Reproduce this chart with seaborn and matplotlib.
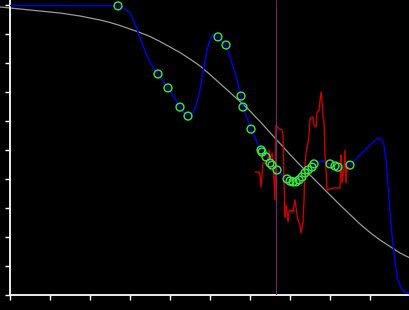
import matplotlib
matplotlib.use("Agg")
import matplotlib.pyplot as plt
import seaborn as sns
import pandas as pd

# ---- data ----
gray_x = [-0.25, 0.25, 0.75, 1.25, 1.75, 2.25, 2.5, 2.75, 3.0, 3.25, 3.5, 3.75,
          4.0, 4.25, 4.5, 4.75, 5.0, 5.25, 5.5, 5.75, 6.0, 6.25, 6.5, 6.75, 7.0,
          7.25, 7.5, 7.75, 8.0, 8.25, 8.5, 8.75, 9.0, 9.25, 9.5, 9.75, 10.0]
gray_y = [9.931, 9.862, 9.793, 9.724, 9.621, 9.483, 9.397, 9.293, 9.172, 9.052,
          8.914, 8.741, 8.552, 8.362, 8.138, 7.897, 7.603, 7.293, 6.983, 6.672,
          6.345, 5.983, 5.603, 5.224, 4.845, 4.483, 4.138, 3.793, 3.448, 3.103,
          2.776, 2.448, 2.155, 1.897, 1.672, 1.448, 1.276]

blue_x = [0.00, 1.25, 2.70, 2.875, 3.00, 3.075, 3.20, 3.325, 3.45, 3.575, 3.70,
          3.825, 3.95, 4.10, 4.25, 4.35, 4.45, 4.55, 4.65, 4.75, 4.825, 4.925,
          5.00, 5.075, 5.20, 5.30, 5.40, 5.50, 5.625, 5.725, 5.775, 5.825, 5.925,
          6.025, 6.15, 6.275, 6.425, 6.55, 6.675, 6.80, 6.925, 7.075, 7.25, 7.375,
          7.45, 7.60, 7.75, 7.875, 8.00, 8.15, 8.325, 8.50, 8.70, 8.875, 9.05,
          9.20, 9.275, 9.35, 9.40, 9.45, 9.50, 9.55, 9.625, 9.70, 9.825, 10.0]
blue_y = [9.98, 9.98, 9.97, 9.88, 9.72, 9.52, 9.07, 8.59, 8.17, 7.86, 7.62,
          7.38, 7.14, 6.83, 6.48, 6.28, 6.17, 6.24, 6.52, 7.07, 7.69, 8.45,
          8.79, 9.00, 8.90, 8.76, 8.62, 8.21, 7.66, 7.14, 6.86, 6.48, 6.10,
          5.72, 5.34, 5.00, 4.76, 4.48, 4.31, 4.14, 4.00, 3.90, 4.03, 4.17,
          4.31, 4.52, 4.62, 4.59, 4.52, 4.41, 4.48, 4.48, 4.76, 5.00, 5.24,
          5.41, 5.38, 5.17, 4.66, 3.79, 2.86, 2.07, 1.14, 0.48, 0.14, 0.03]

green_x = [2.70, 3.70, 3.95, 4.25, 4.45, 5.20, 5.40, 5.775, 5.825, 6.025, 6.275,
           6.30, 6.40, 6.50, 6.55, 6.675, 6.925, 7.00, 7.075, 7.15, 7.225, 7.30,
           7.375, 7.45, 7.55, 7.60, 8.00, 8.125, 8.20, 8.50]
green_y = [9.97, 7.62, 7.14, 6.48, 6.17, 8.90, 8.62, 6.86, 6.48, 5.72, 5.00,
           4.93, 4.76, 4.55, 4.48, 4.31, 4.00, 3.93, 3.90, 3.90, 3.97, 4.07,
           4.21, 4.31, 4.41, 4.52, 4.52, 4.45, 4.41, 4.48]

red_x = [6.125, 6.225, 6.25, 6.275, 6.30, 6.325, 6.40, 6.45, 6.475, 6.50, 6.55,
         6.575, 6.625, 6.65, 6.70, 6.80, 6.825, 6.85, 6.875, 6.90, 6.925, 6.95,
         6.975, 7.00, 7.05, 7.075, 7.10, 7.125, 7.15, 7.175, 7.20, 7.25, 7.275,
         7.30, 7.325, 7.35, 7.375, 7.40, 7.425, 7.45, 7.475, 7.50, 7.575, 7.60,
         7.65, 7.675, 7.725, 7.775, 7.80, 7.825, 7.85, 7.875, 7.90, 7.925, 8.075,
         8.25, 8.26, 8.275, 8.30, 8.35, 8.375, 8.40, 8.425, 8.475]
red_y = [4.24, 4.24, 4.14, 3.72, 4.14, 4.55, 4.55, 4.66, 5.00, 4.66, 4.90,
         4.66, 3.28, 5.86, 5.76, 5.69, 5.52, 3.97, 2.69, 3.10, 2.93, 2.52,
         2.86, 2.93, 2.90, 2.86, 3.10, 3.28, 3.03, 2.76, 2.59, 2.41, 2.14,
         2.34, 2.48, 3.28, 4.48, 4.90, 5.10, 5.24, 5.52, 6.10, 6.14, 5.86,
         5.79, 6.31, 6.38, 7.00, 6.66, 6.14, 5.97, 4.83, 4.38, 3.62, 3.69,
         3.69, 4.24, 4.83, 3.86, 4.41, 5.00, 3.86, 4.38, 4.41]

vline_x = 6.64
x_ticks = [0, 1, 2, 3, 4, 5, 6, 7, 8, 9, 10]
y_ticks = [0, 1, 2, 3, 4, 5, 6, 7, 8, 9, 10]

# ---- style ----
sns.set_style("dark", {"axes.facecolor": "black", "figure.facecolor": "black",
                       "axes.edgecolor": "white", "grid.color": "black"})
plt.rcParams["font.family"] = ["DejaVu Sans"]

fig = plt.figure(figsize=(4.1, 3.1), dpi=100)
fig.patch.set_facecolor("black")
ax = fig.add_axes([10 / 410, 15 / 310, 400 / 410, 295 / 310])
ax.set_facecolor("black")

gray_df = pd.DataFrame({"x": gray_x, "y": gray_y})
blue_df = pd.DataFrame({"x": blue_x, "y": blue_y})
red_df = pd.DataFrame({"x": red_x, "y": red_y})
green_df = pd.DataFrame({"x": green_x, "y": green_y})

sns.lineplot(data=gray_df, x="x", y="y", ax=ax, color="#9a9a9a", linewidth=0.9,
             sort=False, estimator=None, clip_on=False, zorder=2)
sns.lineplot(data=blue_df, x="x", y="y", ax=ax, color="#0000f0", linewidth=1.0,
             sort=False, estimator=None, zorder=3)
sns.lineplot(data=red_df, x="x", y="y", ax=ax, color="#cc0000", linewidth=1.0,
             sort=False, estimator=None, zorder=4)
ax.axvline(vline_x, color="#6a2a6a", linewidth=0.8, zorder=5)
ax.scatter(green_df["x"], green_df["y"], s=32, facecolors="none",
           edgecolors="#33ee33", linewidths=1.0, zorder=6)

ax.set_xlim(0, 10)
ax.set_ylim(0, 295 / 29)
ax.set_xticks(x_ticks)
ax.set_yticks(y_ticks)
ax.set_xticklabels([])
ax.set_yticklabels([])
ax.set_xlabel("")
ax.set_ylabel("")
ax.grid(False)
for side in ("top", "right"):
    ax.spines[side].set_visible(False)
for side in ("left", "bottom"):
    ax.spines[side].set_color("white")
    ax.spines[side].set_linewidth(1.3)
ax.tick_params(axis="both", direction="out", length=3.5, width=1.0,
               colors="white", bottom=True, left=True)

fig.savefig("out.png", dpi=100, facecolor="black")
